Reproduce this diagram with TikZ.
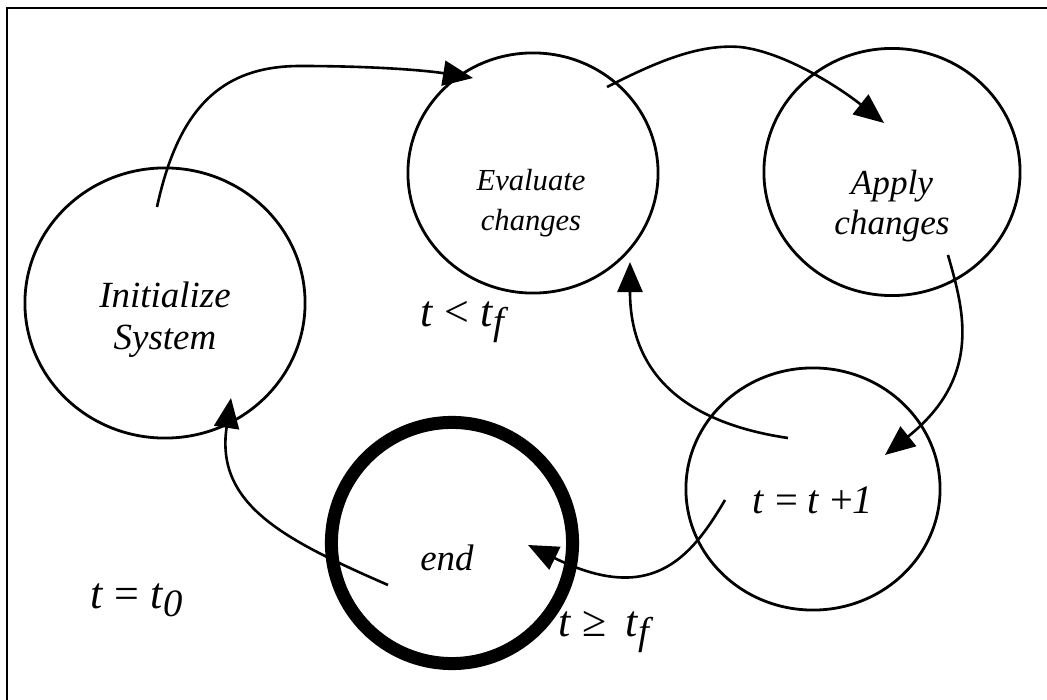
\documentclass[tikz,border=0pt]{standalone}
\usepackage{fontspec}
\setmainfont{Liberation Serif}[UprightFont=*,ItalicFont=* Italic,BoldFont=* Bold]
\usetikzlibrary{arrows.meta,shapes.geometric,calc}
\newcommand{\subf}[1]{\raisebox{-0.4ex}{\fontsize{11}{13}\selectfont\itshape #1}}
\begin{document}
\begin{tikzpicture}[x=0.01cm,y=-0.01cm,
  state/.style={draw,ellipse,line width=0.28mm,inner sep=0pt},
  txt/.style={font=\itshape\fontsize{10}{11}\selectfont,align=center,inner sep=0pt},
  cond/.style={font=\fontsize{12.5}{15}\selectfont,inner sep=0pt},
  flow/.style={line width=0.26mm,-{Triangle[length=3mm,width=2.5mm]}},
  frameline/.style={line width=0.85pt}]
\useasboundingbox (0,0) rectangle (1047,700);
% frame (top and left edges)
\coordinate (fb) at (7,700);
\coordinate (fc) at (7,8);
\coordinate (fr) at (1047,8);
\draw[frameline] (fb) -- (fc) -- (fr);
% states
\node[state,minimum width=2.8cm,minimum height=2.7cm] (init) at (165,303) {};
\node[state,minimum width=2.5cm,minimum height=2.4cm] (eval) at (533,173) {};
\node[state,minimum width=2.56cm,minimum height=2.47cm] (apply) at (892,172) {};
\node[state,minimum width=2.54cm,minimum height=2.42cm] (step) at (813,489) {};
\node[draw,circle,line width=1.3mm,minimum size=2.41cm,inner sep=0pt] (end) at (452,543) {};
% texts
\node[txt,font=\itshape\fontsize{10.5}{11}\selectfont] (initT) at (165,320) {Initialize\\[0.9pt]System};
\node[txt,font=\itshape\fontsize{8.7}{10}\selectfont] (evalT) at (531,203) {Evaluate\\[1.2pt]changes};
\node[txt,font=\itshape\fontsize{10}{11}\selectfont] (applyT) at (892,206) {Apply\\[0.5pt]changes};
\node[txt,font=\fontsize{11.5}{13}\selectfont] (stepT) at (813,500) {\textit{t} = \textit{t} +\textit{1}};
\node[txt,font=\itshape\fontsize{10.5}{12}\selectfont] (endT) at (447,558) {end};
% condition labels
\node[cond,anchor=west] (c1) at (420,322) {\textit{t} < \textit{t}\subf{f}};
\node[cond,anchor=west] (c2) at (90,600) {\textit{t} = \textit{t}\subf{0}};
\node[cond,anchor=west] (c3) at (558,632) {\textit{t} ≥ \,\textit{t}\subf{f}};
% connector end points
\coordinate (s1) at (157,207);
\coordinate (e1) at (473,78);
\coordinate (s2) at (607,87);
\coordinate (e2) at (884,123);
\coordinate (s3) at (948,255);
\coordinate (e3) at (885,455);
\coordinate (s4) at (788,438);
\coordinate (e4) at (630,262);
\coordinate (s5) at (725,500);
\coordinate (e5) at (528,545);
\coordinate (s6) at (388,585);
\coordinate (e6) at (231,398);
% connectors
\draw[flow] (s1) .. controls (178,110) and (220,66) .. (300,66) .. controls (380,66) and (430,71) .. (e1);
\draw[flow] (s2) .. controls (660,60) and (700,44) .. (740,47) .. controls (785,52) and (840,88) .. (e2);
\draw[flow] (s3) .. controls (962,305) and (985,375) .. (e3);
\draw[flow] (s4) .. controls (700,425) and (630,385) .. (e4);
\draw[flow] (s5) .. controls (690,560) and (650,605) .. (e5);
\draw[flow] (s6) .. controls (285,540) and (215,505) .. (e6);
\end{tikzpicture}
\end{document}
